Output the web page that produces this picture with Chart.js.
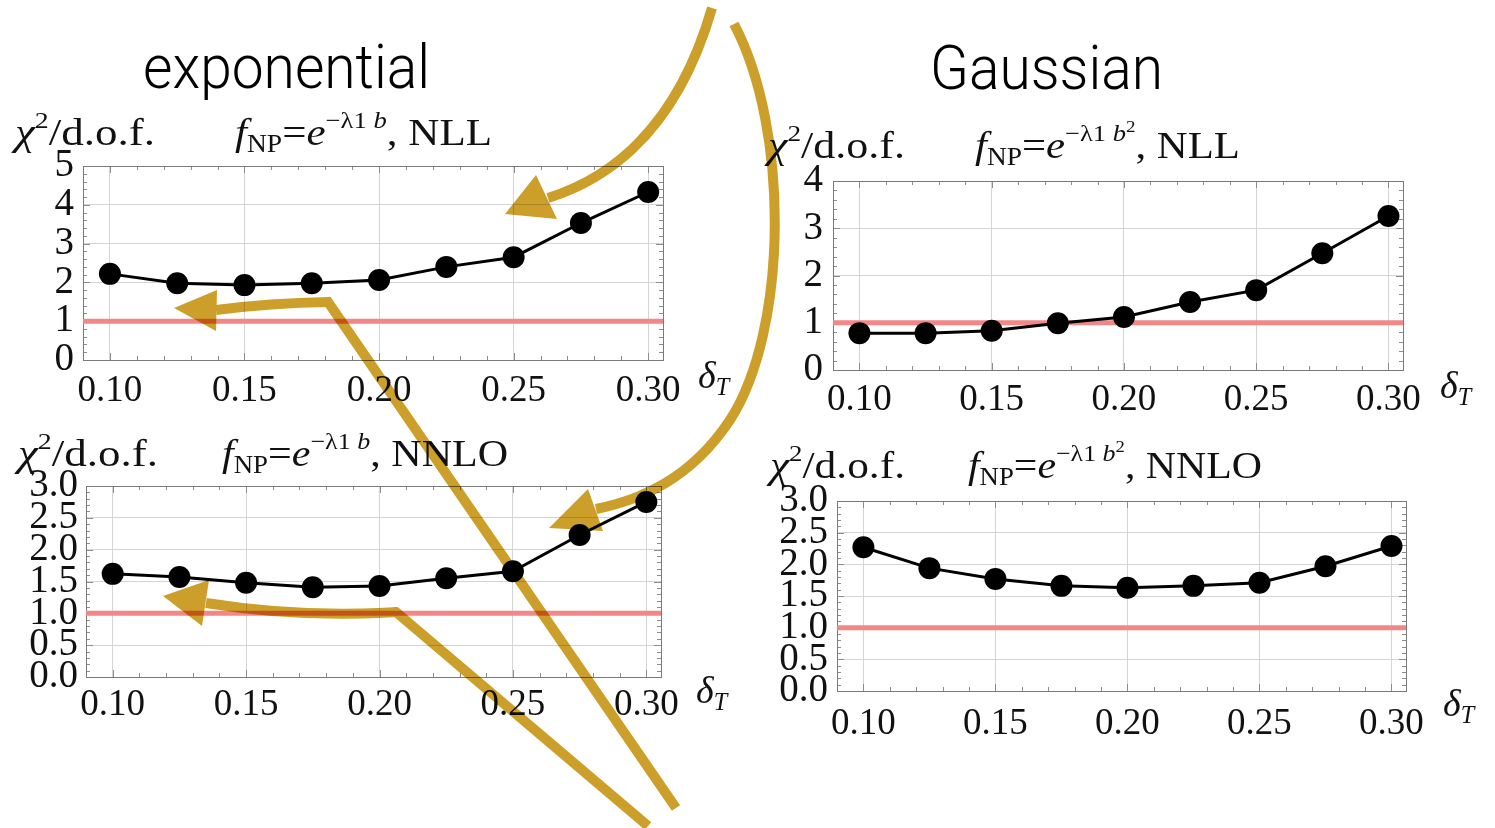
<!DOCTYPE html>
<html>
<head>
<meta charset="utf-8">
<script src="https://cdn.jsdelivr.net/npm/chart.js@4.4.1/dist/chart.umd.min.js"></script>
<style>
  html, body { margin: 0; padding: 0; background: #fff; }
  #stage { position: relative; width: 1495px; height: 828px; overflow: hidden; background: #fff; }
  #stage canvas { position: absolute; }
  .t { position: absolute; white-space: nowrap; font-family: "Liberation Serif", "DejaVu Serif", serif;
       font-size: 38px; color: #111; line-height: 1; transform-origin: 0 0; }
  .sec { position: absolute; white-space: nowrap; font-family: Roboto, "Liberation Sans", sans-serif;
         font-weight: 300; font-size: 62px; color: #000; line-height: 1; transform-origin: 0 0; }
  .sup { font-size: 0.62em; position: relative; top: -0.72em; }
  .sup2 { font-size: 0.72em; position: relative; top: -0.55em; }
  .sub { font-size: 0.64em; position: relative; top: 0.28em; }
  i { font-style: italic; }
  #arrows { position: absolute; left: 0; top: 0; mix-blend-mode: multiply; pointer-events: none; }
</style>
</head>
<body>
<div id="stage">
  <div class="sec fit" data-w="287" style="left:143px;top:36px">exponential</div>
  <div class="sec fit" data-w="233" style="left:930px;top:37px">Gaussian</div>

  <!-- exponential, NLL -->
  <div class="t fit" data-w="140" style="left:15px;top:113px"><i>χ</i><span class="sup">2</span>/d.o.f.</div>
  <div class="t fit" data-w="257" style="left:235px;top:113px"><i>f</i><span class="sub">NP</span>=<i>e</i><span class="sup">−λ1 <i>b</i></span>, NLL</div>
  <div class="t" style="left:698px;top:356px"><i>δ</i><span class="sub"><i>T</i></span></div>

  <!-- Gaussian, NLL -->
  <div class="t fit" data-w="137" style="left:768px;top:126px"><i>χ</i><span class="sup">2</span>/d.o.f.</div>
  <div class="t fit" data-w="265" style="left:975px;top:126px"><i>f</i><span class="sub">NP</span>=<i>e</i><span class="sup">−λ1 <i>b</i><span class="sup2">2</span></span>, NLL</div>
  <div class="t" style="left:1440px;top:366px"><i>δ</i><span class="sub"><i>T</i></span></div>

  <!-- exponential, NNLO -->
  <div class="t fit" data-w="140" style="left:18px;top:434px"><i>χ</i><span class="sup">2</span>/d.o.f.</div>
  <div class="t fit" data-w="286" style="left:222px;top:434px"><i>f</i><span class="sub">NP</span>=<i>e</i><span class="sup">−λ1 <i>b</i></span>, NNLO</div>
  <div class="t" style="left:696px;top:671px"><i>δ</i><span class="sub"><i>T</i></span></div>

  <!-- Gaussian, NNLO -->
  <div class="t fit" data-w="135" style="left:770px;top:446px"><i>χ</i><span class="sup">2</span>/d.o.f.</div>
  <div class="t fit" data-w="294" style="left:968px;top:446px"><i>f</i><span class="sub">NP</span>=<i>e</i><span class="sup">−λ1 <i>b</i><span class="sup2">2</span></span>, NNLO</div>
  <div class="t" style="left:1443px;top:684px"><i>δ</i><span class="sub"><i>T</i></span></div>
</div>

<script>
// δT scan points and χ²/d.o.f. of each fit
const deltaT      = [0.100, 0.125, 0.150, 0.175, 0.200, 0.225, 0.250, 0.275, 0.300];
const chi2ExpNLL    = [2.22, 1.98, 1.93, 1.98, 2.06, 2.40, 2.65, 3.53, 4.33];
const chi2GaussNLL  = [0.78, 0.78, 0.83, 0.99, 1.12, 1.44, 1.69, 2.47, 3.26];
const chi2ExpNNLO   = [1.62, 1.57, 1.48, 1.41, 1.43, 1.55, 1.66, 2.23, 2.75];
const chi2GaussNNLO = [2.27, 1.94, 1.77, 1.66, 1.63, 1.66, 1.71, 1.97, 2.29];

// reference level χ²/d.o.f. = 1
const chi2Target = 1;

// axis ticks
const xRange = [0.090, 0.3055];
const xTickValues = [0.10, 0.15, 0.20, 0.25, 0.30];
const xTickLabels = ['0.10', '0.15', '0.20', '0.25', '0.30'];
const yTicksFive  = [0, 1, 2, 3, 4, 5];
const yLabelsFive = ['0', '1', '2', '3', '4', '5'];
const yTicksFour  = [0, 1, 2, 3, 4];
const yLabelsFour = ['0', '1', '2', '3', '4'];
const yTicksThree  = [0, 0.5, 1.0, 1.5, 2.0, 2.5, 3.0];
const yLabelsThree = ['0.0', '0.5', '1.0', '1.5', '2.0', '2.5', '3.0'];

// framed plot box with inward major/minor ticks on all four sides
const framePlugin = {
  id: 'mmaFrame',
  beforeDatasetsDraw(chart, args, opts) {
    const { ctx, chartArea: a, scales: { x, y } } = chart;
    ctx.save();
    ctx.strokeStyle = '#8c8c8c';
    ctx.lineWidth = 1;
    ctx.beginPath();
    // x ticks every 0.01, major every 0.05
    for (let k = 9; k <= 30; k++) {
      const px = Math.round(x.getPixelForValue(k / 100)) + 0.5;
      const len = (k % 5 === 0) ? 7 : 4;
      ctx.moveTo(px, a.bottom); ctx.lineTo(px, a.bottom - len);
      ctx.moveTo(px, a.top); ctx.lineTo(px, a.top + len);
    }
    // y ticks
    const n = Math.round(opts.yMax / opts.yMinor);
    const per = Math.round(opts.yMajor / opts.yMinor);
    for (let k = 0; k <= n; k++) {
      const py = Math.round(y.getPixelForValue(k * opts.yMinor)) + 0.5;
      const len = (k % per === 0) ? 7 : 4;
      ctx.moveTo(a.left, py); ctx.lineTo(a.left + len, py);
      ctx.moveTo(a.right, py); ctx.lineTo(a.right - len, py);
    }
    ctx.stroke();
    ctx.strokeStyle = '#7a7a7a';
    ctx.strokeRect(Math.round(a.left) + 0.5, Math.round(a.top) + 0.5,
                   Math.round(a.right - a.left), Math.round(a.bottom - a.top));
    ctx.restore();
  }
};

const serif = 'Liberation Serif, DejaVu Serif, serif';
const stage = document.getElementById('stage');

function makePanel(p) {
  const padL = 10, yW = 90, padT = 30, padR = 40, xH = 60, padB = 5;
  const W = (p.frame.r - p.frame.l) + padL + yW + padR;
  const H = (p.frame.b - p.frame.t) + padT + xH + padB;
  const cv = document.createElement('canvas');
  cv.width = W; cv.height = H;
  cv.style.width = W + 'px'; cv.style.height = H + 'px';
  cv.style.left = (p.frame.l - padL - yW) + 'px';
  cv.style.top = (p.frame.t - padT) + 'px';
  stage.insertBefore(cv, stage.firstChild);

  new Chart(cv, {
    type: 'line',
    data: {
      datasets: [
        {
          data: deltaT.map((d, i) => ({ x: d, y: p.values[i] })),
          borderColor: '#000', backgroundColor: '#000', borderWidth: 3,
          pointRadius: 11, pointBorderWidth: 0, pointBackgroundColor: '#000',
          tension: 0, clip: false
        },
        {
          data: [{ x: xRange[0], y: chi2Target }, { x: xRange[1], y: chi2Target }],
          borderColor: '#f38787', borderWidth: 5, pointRadius: 0, clip: false
        }
      ]
    },
    options: {
      responsive: false, animation: false, devicePixelRatio: 1, events: [],
      layout: { autoPadding: false, padding: { left: padL, top: padT, right: padR, bottom: padB } },
      plugins: {
        legend: { display: false }, tooltip: { enabled: false },
        mmaFrame: { yMax: p.yTicks[p.yTicks.length - 1], yMajor: p.yTicks[1] - p.yTicks[0], yMinor: p.yMinor }
      },
      scales: {
        x: {
          type: 'linear', min: xRange[0], max: xRange[1],
          afterBuildTicks: s => { s.ticks = xTickValues.map(v => ({ value: v })); },
          afterFit: s => { s.height = xH; },
          grid: { color: '#d4d4d4', lineWidth: 1, drawTicks: false },
          border: { display: false },
          ticks: { autoSkip: false, maxRotation: 0, padding: p.xPad, color: '#111',
                   font: { family: serif, size: 37 }, callback: (v, i) => xTickLabels[i] }
        },
        y: {
          type: 'linear', min: p.yTicks[0], max: p.yTicks[p.yTicks.length - 1],
          afterBuildTicks: s => { s.ticks = p.yTicks.map(v => ({ value: v })); },
          afterFit: s => { s.width = yW; },
          grid: { color: '#d4d4d4', lineWidth: 1, drawTicks: false },
          border: { display: false },
          ticks: { autoSkip: false, padding: p.yPad, color: '#111',
                   font: { family: serif, size: 39, lineHeight: 1 }, callback: (v, i) => p.yLabels[i] }
        }
      }
    },
    plugins: [framePlugin]
  });
}

makePanel({ frame: { l: 83,  t: 166, r: 663,  b: 360 }, values: chi2ExpNLL,
            yTicks: yTicksFive,  yLabels: yLabelsFive,  yMinor: 0.2, xPad: 9, yPad: 9 });
makePanel({ frame: { l: 833, t: 181, r: 1403, b: 370 }, values: chi2GaussNLL,
            yTicks: yTicksFour,  yLabels: yLabelsFour,  yMinor: 0.2, xPad: 8, yPad: 10 });
makePanel({ frame: { l: 86,  t: 486, r: 661,  b: 677 }, values: chi2ExpNNLO,
            yTicks: yTicksThree, yLabels: yLabelsThree, yMinor: 0.1, xPad: 6, yPad: 8 });
makePanel({ frame: { l: 837, t: 501, r: 1406, b: 691 }, values: chi2GaussNNLO,
            yTicks: yTicksThree, yLabels: yLabelsThree, yMinor: 0.1, xPad: 11, yPad: 9 });

// gold annotation arrows over the plots
const svgNS = 'http://www.w3.org/2000/svg';
const svg = document.createElementNS(svgNS, 'svg');
svg.setAttribute('id', 'arrows');
svg.setAttribute('width', '1495'); svg.setAttribute('height', '828');
svg.innerHTML =
  '<g fill="none" stroke="#cc9f2b" stroke-width="10" stroke-linejoin="miter" stroke-miterlimit="10">' +
  '<path d="M712,8 Q668,160 548,198"/>' +
  '<path d="M734,24 C790,130 788,330 730,420 C690,480 640,500 596,509"/>' +
  '<path d="M216,310 Q270,303 328,302 L676,808"/>' +
  '<path d="M206,603 Q300,618 396,612 L648,826"/>' +
  '</g><g fill="#cc9f2b">' +
  '<polygon points="505,214 536,175 557,219"/>' +
  '<polygon points="549,528 588,489 603,531"/>' +
  '<polygon points="174,308 217,290 216,331"/>' +
  '<polygon points="163,596 209,580 202,626"/>' +
  '</g>';
stage.appendChild(svg);

// stretch each heading to its printed width
function fitTexts() {
  document.querySelectorAll('.fit').forEach(el => {
    el.style.transform = 'none';
    const w = el.getBoundingClientRect().width;
    const target = parseFloat(el.dataset.w);
    if (w > 0) el.style.transform = 'scaleX(' + (target / w).toFixed(4) + ')';
  });
}
fitTexts();
if (document.fonts && document.fonts.ready) document.fonts.ready.then(fitTexts);
</script>
</body>
</html>
